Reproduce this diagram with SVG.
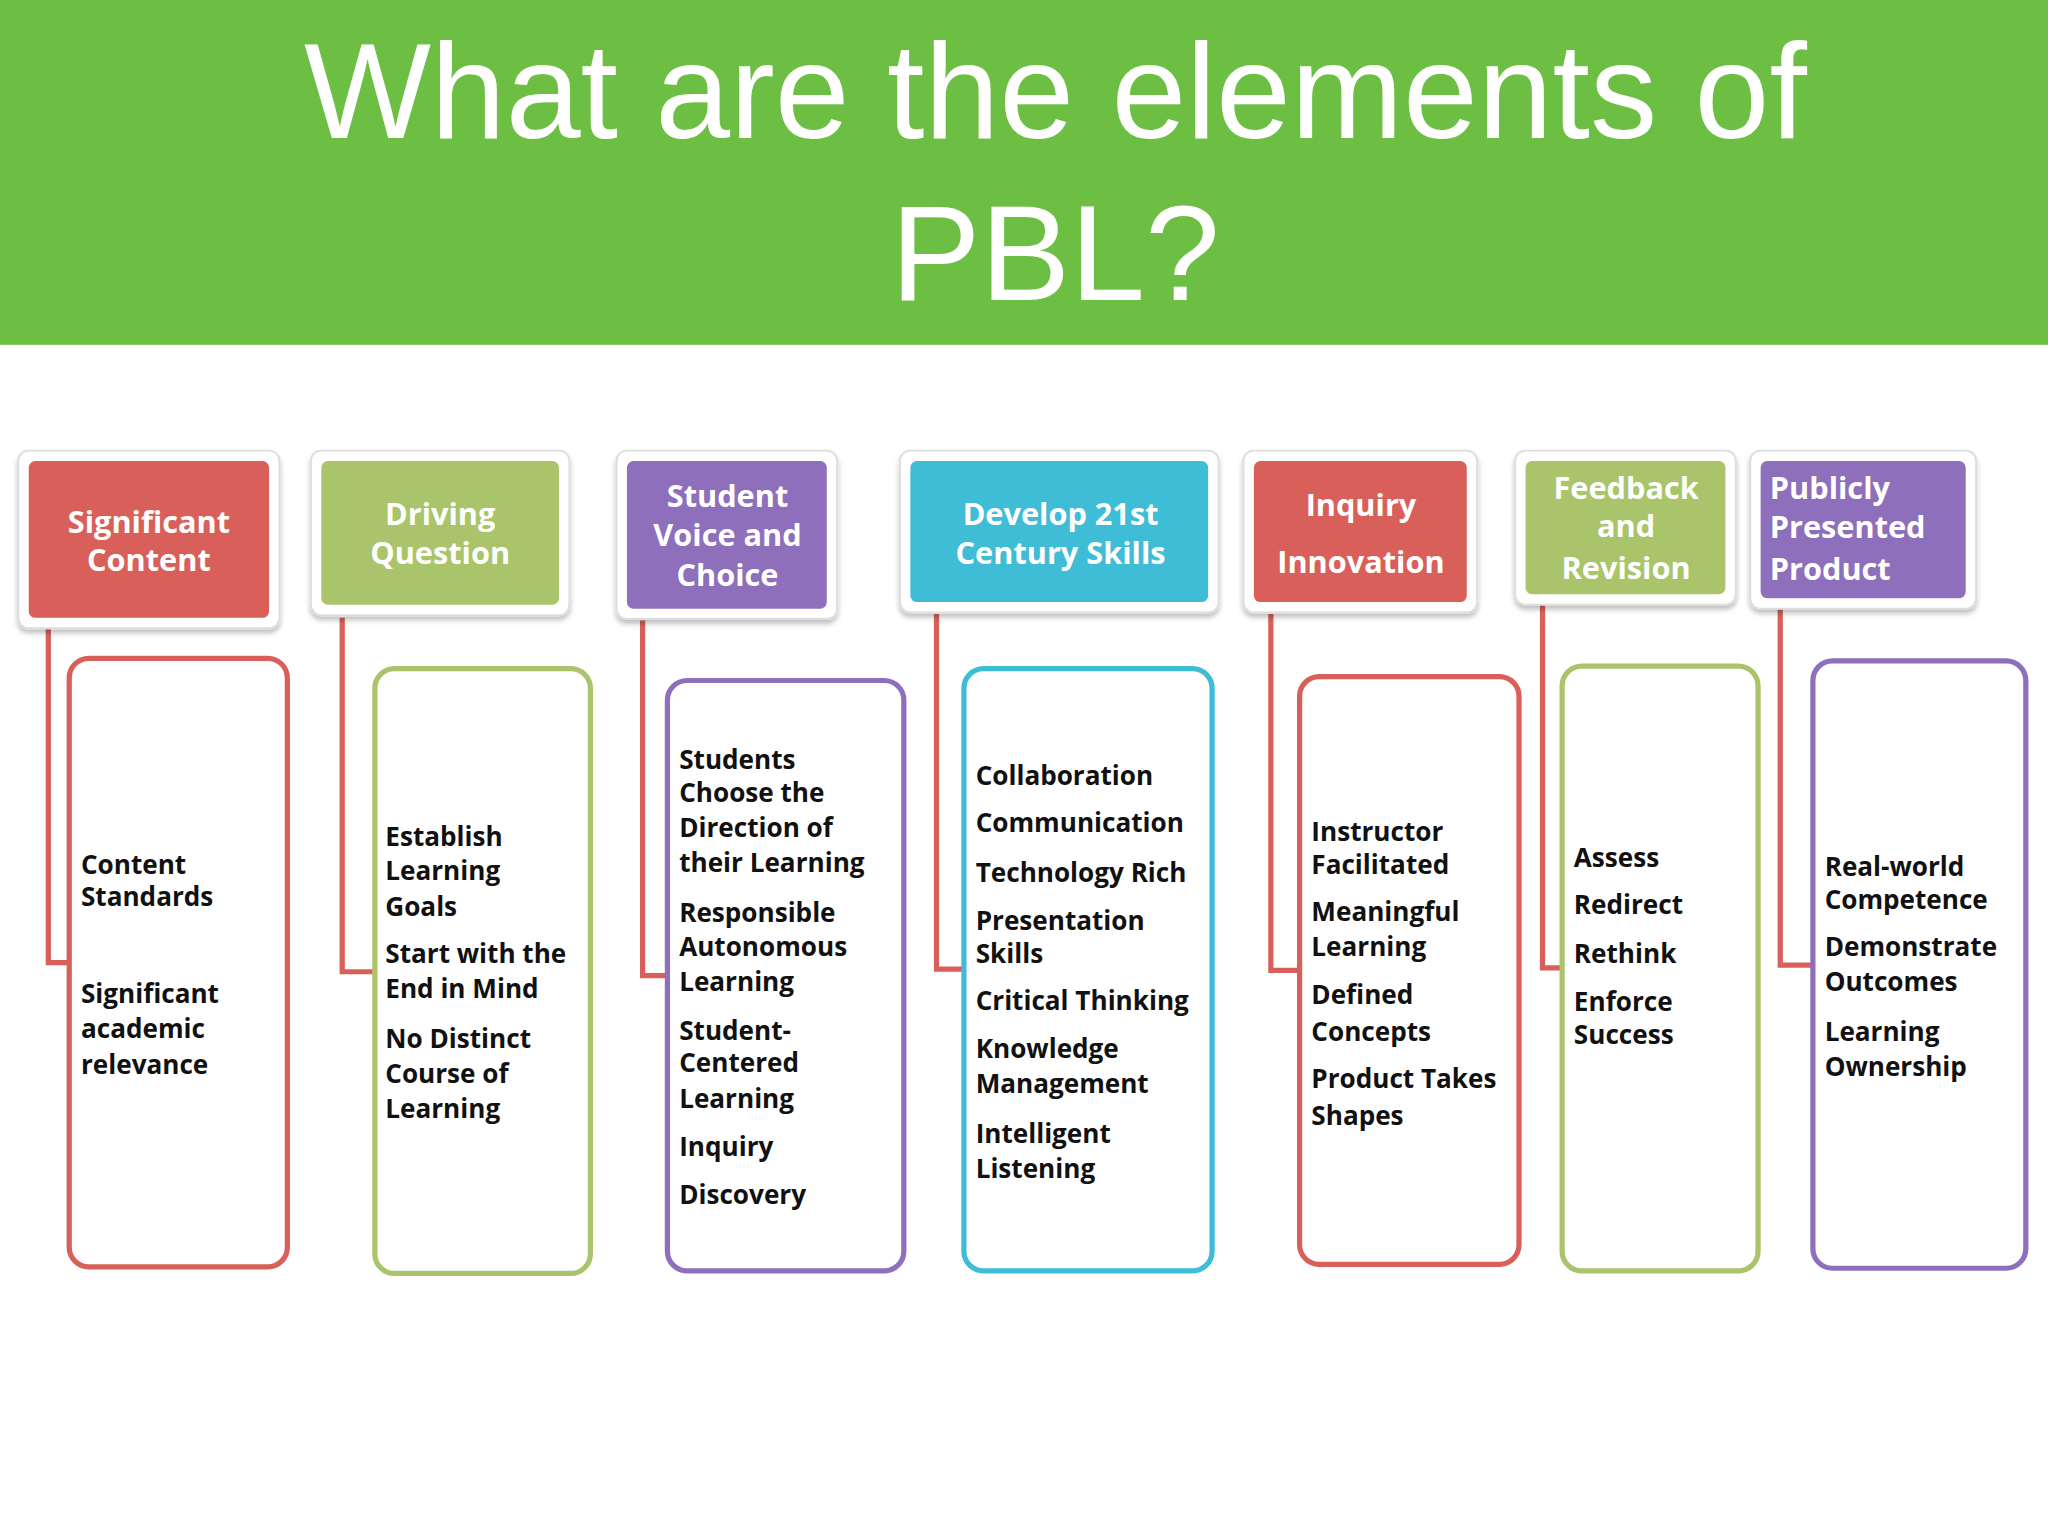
<svg xmlns="http://www.w3.org/2000/svg" width="2048" height="1536" viewBox="0 0 2048 1536">
<defs>
<style>
.t{font-family:"Liberation Sans",Arial,sans-serif;fill:#fff;text-anchor:middle}
.h{font-family:"Open Sans","Liberation Sans",sans-serif;font-weight:bold;font-size:23.5px;fill:#fff;text-anchor:middle}
.b{font-family:"Open Sans","Liberation Sans",sans-serif;font-weight:bold;font-size:20px;fill:#111}
.fr{fill:#fff;stroke:#ddd;stroke-width:1.5}
.c{fill:#fff;stroke-width:4}
.con{fill:none;stroke:#d9605a;stroke-width:4}
</style>
<filter id="sh" x="-10%" y="-10%" width="120%" height="130%"><feDropShadow dx="0" dy="3" stdDeviation="2" flood-color="#000" flood-opacity="0.25"/></filter>
</defs>
<rect width="2048" height="1536" fill="#fff"/>
<g transform="scale(1.30612)">
<g id="title">
<rect x="0" y="0" width="1568" height="264" fill="#6dbf43"/>
<text class="t" x="808" y="106" font-size="103">What are the elements of</text>
<text class="t" x="808" y="230" font-size="103">PBL?</text>
</g>
<g id="connectors">
<polyline class="con" points="37,481 37,737 53,737"/>
<polyline class="con" points="262,473 262,744 287,744"/>
<polyline class="con" points="492,475 492,747 511,747"/>
<polyline class="con" points="717,470 717,742 738,742"/>
<polyline class="con" points="973,470 973,743 995,743"/>
<polyline class="con" points="1181,463 1181,741 1196,741"/>
<polyline class="con" points="1363,466 1363,739 1388,739"/>
</g>
<g id="h1"><rect class="fr" filter="url(#sh)" x="14" y="345" width="200" height="136" rx="8"/><rect x="22" y="353" width="184" height="120" rx="5" fill="#d9605a"/>
<text class="h" x="114" y="408">Significant</text><text class="h" x="114" y="437">Content</text></g>
<g id="h2"><rect class="fr" filter="url(#sh)" x="238" y="345" width="198" height="126" rx="8"/><rect x="246" y="353" width="182" height="110" rx="5" fill="#a9c46a"/>
<text class="h" x="337" y="402">Driving</text><text class="h" x="337" y="432">Question</text></g>
<g id="h3"><rect class="fr" filter="url(#sh)" x="472" y="345" width="169" height="129" rx="8"/><rect x="480" y="353" width="153" height="113" rx="5" fill="#8e6fbb"/>
<text class="h" x="557" y="388">Student</text><text class="h" x="557" y="418">Voice and</text><text class="h" x="557" y="449">Choice</text></g>
<g id="h4"><rect class="fr" filter="url(#sh)" x="689" y="345" width="244" height="124" rx="8"/><rect x="697" y="353" width="228" height="108" rx="5" fill="#3fbcd6"/>
<text class="h" x="812" y="402">Develop 21st</text><text class="h" x="812" y="432">Century Skills</text></g>
<g id="h5"><rect class="fr" filter="url(#sh)" x="952" y="345" width="179" height="124" rx="8"/><rect x="960" y="353" width="163" height="108" rx="5" fill="#d9605a"/>
<text class="h" x="1042" y="395">Inquiry</text><text class="h" x="1042" y="439">Innovation</text></g>
<g id="h6"><rect class="fr" filter="url(#sh)" x="1160" y="345" width="169" height="118" rx="8"/><rect x="1168" y="353" width="153" height="102" rx="5" fill="#a9c46a"/>
<text class="h" x="1245" y="382">Feedback</text><text class="h" x="1245" y="411">and</text><text class="h" x="1245" y="443">Revision</text></g>
<g id="h7"><rect class="fr" filter="url(#sh)" x="1340" y="345" width="173" height="121" rx="8"/><rect x="1348" y="353" width="157" height="105" rx="5" fill="#8e6fbb"/>
<text class="h" x="1355" y="382" style="text-anchor:start">Publicly</text><text class="h" x="1355" y="412" style="text-anchor:start">Presented</text><text class="h" x="1355" y="444" style="text-anchor:start">Product</text></g>

<g id="c1"><rect class="c" stroke="#d9605a" x="53" y="504" width="167" height="466" rx="15"/>
<text class="b" x="62" y="669">Content</text><text class="b" x="62" y="694">Standards</text><text class="b" x="62" y="768">Significant</text><text class="b" x="62" y="795">academic</text><text class="b" x="62" y="822">relevance</text></g>
<g id="c2"><rect class="c" stroke="#a9c46a" x="287" y="512" width="165" height="463" rx="15"/>
<text class="b" x="295" y="648">Establish</text><text class="b" x="295" y="674">Learning</text><text class="b" x="295" y="701">Goals</text><text class="b" x="295" y="737">Start with the</text><text class="b" x="295" y="764">End in Mind</text><text class="b" x="295" y="802">No Distinct</text><text class="b" x="295" y="829">Course of</text><text class="b" x="295" y="856">Learning</text></g>
<g id="c3"><rect class="c" stroke="#8e6fbb" x="511" y="521" width="181" height="452" rx="15"/>
<text class="b" x="520" y="589">Students</text><text class="b" x="520" y="614">Choose the</text><text class="b" x="520" y="641">Direction of</text><text class="b" x="520" y="668">their Learning</text><text class="b" x="520" y="706">Responsible</text><text class="b" x="520" y="732">Autonomous</text><text class="b" x="520" y="759">Learning</text><text class="b" x="520" y="796">Student-</text><text class="b" x="520" y="821">Centered</text><text class="b" x="520" y="848">Learning</text><text class="b" x="520" y="885">Inquiry</text><text class="b" x="520" y="922">Discovery</text></g>
<g id="c4"><rect class="c" stroke="#3fbcd6" x="738" y="512" width="190" height="461" rx="15"/>
<text class="b" x="747" y="601">Collaboration</text><text class="b" x="747" y="637">Communication</text><text class="b" x="747" y="675">Technology Rich</text><text class="b" x="747" y="712">Presentation</text><text class="b" x="747" y="737">Skills</text><text class="b" x="747" y="773">Critical Thinking</text><text class="b" x="747" y="810">Knowledge</text><text class="b" x="747" y="837">Management</text><text class="b" x="747" y="875">Intelligent</text><text class="b" x="747" y="902">Listening</text></g>
<g id="c5"><rect class="c" stroke="#d9605a" x="995" y="518" width="168" height="450" rx="15"/>
<text class="b" x="1004" y="644">Instructor</text><text class="b" x="1004" y="669">Facilitated</text><text class="b" x="1004" y="705">Meaningful</text><text class="b" x="1004" y="732">Learning</text><text class="b" x="1004" y="769">Defined</text><text class="b" x="1004" y="797">Concepts</text><text class="b" x="1004" y="833">Product Takes</text><text class="b" x="1004" y="861">Shapes</text></g>
<g id="c6"><rect class="c" stroke="#a9c46a" x="1196" y="510" width="150" height="463" rx="15"/>
<text class="b" x="1205" y="664">Assess</text><text class="b" x="1205" y="700">Redirect</text><text class="b" x="1205" y="737">Rethink</text><text class="b" x="1205" y="774">Enforce</text><text class="b" x="1205" y="799">Success</text></g>
<g id="c7"><rect class="c" stroke="#8e6fbb" x="1388" y="506" width="163" height="465" rx="15"/>
<text class="b" x="1397" y="671">Real-world</text><text class="b" x="1397" y="696">Competence</text><text class="b" x="1397" y="732">Demonstrate</text><text class="b" x="1397" y="759">Outcomes</text><text class="b" x="1397" y="797">Learning</text><text class="b" x="1397" y="824">Ownership</text></g>
</g>
</svg>
